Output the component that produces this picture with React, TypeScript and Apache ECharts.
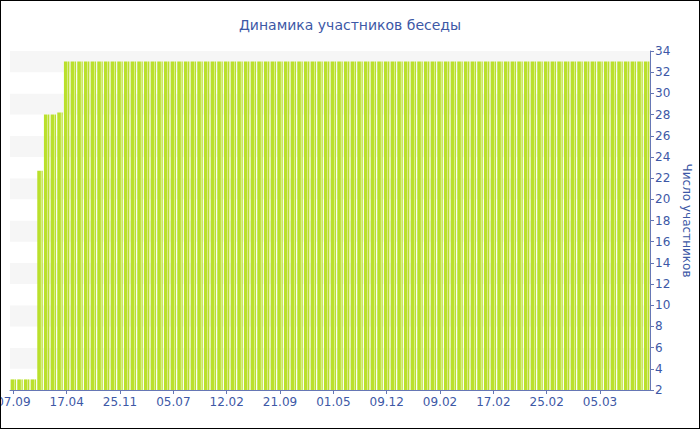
import React, { useEffect, useRef } from "react";
import * as echarts from "echarts";

const titleText = "Динамика участников беседы";
const yAxisName = "Число участников";
const tickLabels = ["07.09", "17.04", "25.11", "05.07", "12.02", "21.09", "01.05", "09.12", "09.02", "17.02", "25.02", "05.03"];
const labelStep = 8;
const participants = [
  3, 3, 3, 3, 22.7, 28, 28, 28.2,
  33, 33, 33, 33, 33, 33, 33, 33,
  33, 33, 33, 33, 33, 33, 33, 33,
  33, 33, 33, 33, 33, 33, 33, 33,
  33, 33, 33, 33, 33, 33, 33, 33,
  33, 33, 33, 33, 33, 33, 33, 33,
  33, 33, 33, 33, 33, 33, 33, 33,
  33, 33, 33, 33, 33, 33, 33, 33,
  33, 33, 33, 33, 33, 33, 33, 33,
  33, 33, 33, 33, 33, 33, 33, 33,
  33, 33, 33, 33, 33, 33, 33, 33,
  33, 33, 33, 33, 33, 33, 33, 33,
];
const yMin = 2;
const yMax = 34;
const yStep = 2;

const categories = participants.map((_, i) => (i % labelStep === 0 ? tickLabels[i / labelStep] ?? "" : ""));

const TEXT = "#3d58a6";
const AXIS = "#6677b5";
const FONT = "DejaVu Sans, Verdana, sans-serif";

export default function App() {
  const ref = useRef<HTMLDivElement>(null);
  useEffect(() => {
    if (!ref.current) return;
    const chart = echarts.init(ref.current, undefined, { renderer: "svg" });
    chart.setOption({
      animation: false,
      title: {
        text: titleText,
        left: "center",
        top: 13,
        textStyle: { color: TEXT, fontSize: 14, fontWeight: "normal", fontFamily: FONT },
      },
      grid: { left: 10, right: 50, top: 51, bottom: 40, containLabel: false, outerBoundsMode: "none" },
      xAxis: {
        type: "category",
        data: categories,
        boundaryGap: true,
        axisLine: { show: true, lineStyle: { color: AXIS, width: 1 } },
        axisTick: { show: true, alignWithLabel: true, interval: labelStep - 1, length: 4, lineStyle: { color: AXIS } },
        axisLabel: { interval: labelStep - 1, color: TEXT, fontSize: 12, fontFamily: FONT, margin: 6 },
        splitLine: { show: false },
      },
      yAxis: {
        type: "value",
        position: "right",
        min: yMin,
        max: yMax,
        interval: yStep,
        name: yAxisName,
        nameLocation: "middle",
        nameRotate: -90,
        nameGap: 29,
        nameTextStyle: { color: TEXT, fontSize: 12, fontFamily: FONT },
        axisLine: { show: true, lineStyle: { color: AXIS, width: 1 } },
        axisTick: { show: true, length: 4, lineStyle: { color: AXIS } },
        axisLabel: { color: TEXT, fontSize: 12, fontFamily: FONT, margin: 5 },
        splitLine: { show: false },
        splitArea: { show: true, areaStyle: { color: ["#ffffff", "#f6f6f6"] } },
      },
      series: [
        {
          type: "bar",
          data: participants,
          barCategoryGap: "18%",
          itemStyle: {
            color: new echarts.graphic.LinearGradient(0, 0, 1, 0, [
              { offset: 0, color: "#bae02c" },
              { offset: 0.58, color: "#bae02c" },
              { offset: 0.62, color: "#d6ee86" },
              { offset: 0.78, color: "#d6ee86" },
              { offset: 0.82, color: "#bae02c" },
              { offset: 1, color: "#bae02c" },
            ]),
          },
        },
      ],
    });
    return () => chart.dispose();
  }, []);
  return (
    <div style={{ position: "fixed", left: 0, top: 0, width: 700, height: 430, background: "#fff" }}>
      <div ref={ref} style={{ position: "absolute", left: 0, top: 0, width: 700, height: 430 }} />
      <div
        style={{
          position: "absolute",
          left: 0,
          top: 0,
          width: 700,
          height: 429,
          boxSizing: "border-box",
          border: "1px solid #000",
          pointerEvents: "none",
        }}
      />
    </div>
  );
}
